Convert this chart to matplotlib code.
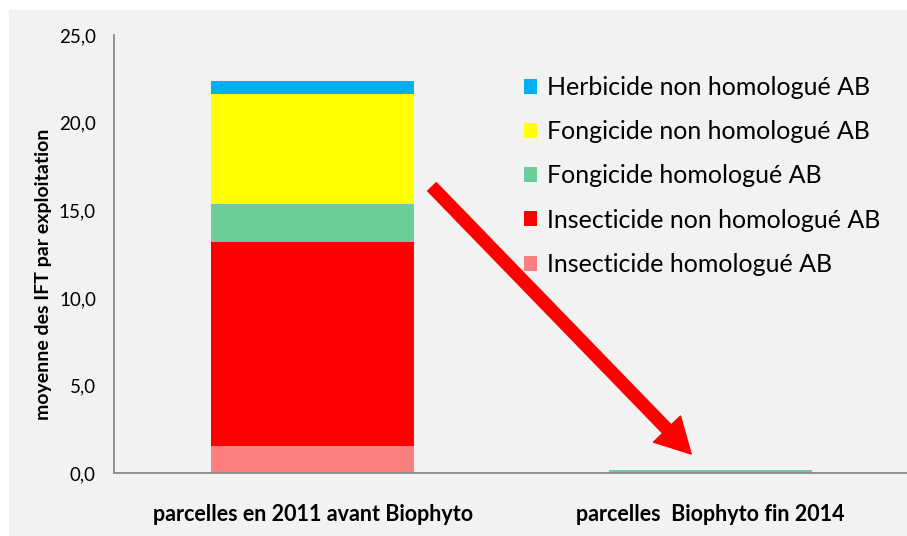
import matplotlib.pyplot as plt
import numpy as np
from matplotlib.patches import Rectangle

# Categories and stacked IFT values (bottom to top)
categories = ["parcelles en 2011 avant Biophyto", "parcelles  Biophyto fin 2014"]
series_names = [
    "Insecticide homologué AB",
    "Insecticide non homologué AB",
    "Fongicide homologué AB",
    "Fongicide non homologué AB",
    "Herbicide non homologué AB",
]
insecticide_ab = [1.56, 0.0]
insecticide_non_ab = [11.61, 0.0]
fongicide_ab = [2.20, 0.19]
fongicide_non_ab = [6.24, 0.0]
herbicide_non_ab = [0.78, 0.0]
y_ticks = [0, 5, 10, 15, 20, 25]
y_tick_labels = ["0,0", "5,0", "10,0", "15,0", "20,0", "25,0"]

colors = ["#FA7F7F", "#FF0000", "#6BCD98", "#FFFF00", "#00B0F0"]
values = [insecticide_ab, insecticide_non_ab, fongicide_ab, fongicide_non_ab, herbicide_non_ab]

plt.rcParams["font.family"] = ["Lato", "DejaVu Sans"]

fig = plt.figure(figsize=(9.07, 5.36), dpi=100, facecolor="white")
# grey panel behind everything
fig.patches.append(Rectangle((9 / 907, 0), 1, (536 - 10) / 536, transform=fig.transFigure,
                             facecolor="#F2F2F2", edgecolor="none", zorder=-10))

ax = fig.add_axes([114 / 907, 62.7 / 536, 795 / 907, 438.3 / 536])
ax.set_facecolor("#F2F2F2")
ax.patch.set_alpha(0)

x = np.arange(len(categories))
bottom = np.zeros(len(categories))
bars = []
for name, vals, col in zip(series_names, values, colors):
    b = ax.bar(x, vals, width=0.51, bottom=bottom, color=col, label=name, zorder=2)
    bars.append(b)
    bottom += np.array(vals)

ax.set_xlim(-0.5, 1.5)
ax.set_ylim(0, 25)
ax.set_yticks(y_ticks)
ax.set_yticklabels(y_tick_labels, fontsize=13.5)
ax.set_xticks(x)
ax.set_xticklabels(categories, fontsize=15.5, fontweight="bold")
ax.tick_params(axis="both", length=0)
ax.tick_params(axis="y", pad=13)
ax.tick_params(axis="x", pad=22)
ax.set_ylabel("moyenne des IFT par exploitation", fontsize=14, fontweight="bold")
ax.yaxis.set_label_coords(-0.078, 0.455)

for side in ["top", "right"]:
    ax.spines[side].set_visible(False)
for side in ["left", "bottom"]:
    ax.spines[side].set_color("#898989")
    ax.spines[side].set_linewidth(1.3)

# red arrow showing the drop
ax.annotate("", xy=(0.952, 1.10), xytext=(0.3, 16.34),
            arrowprops=dict(color="#FF0000", width=8.6, headwidth=27, headlength=25, shrink=0),
            zorder=3)

handles = [bars[i] for i in [4, 3, 2, 1, 0]]
labels = [series_names[i] for i in [4, 3, 2, 1, 0]]
leg = ax.legend(handles, labels, loc="upper left", bbox_to_anchor=(0.487, 0.958),
                frameon=False, fontsize=18, handlelength=0.55, handleheight=0.55,
                handletextpad=0.4, labelspacing=0.85)

fig.savefig("out.png", dpi=100, facecolor=fig.get_facecolor())
